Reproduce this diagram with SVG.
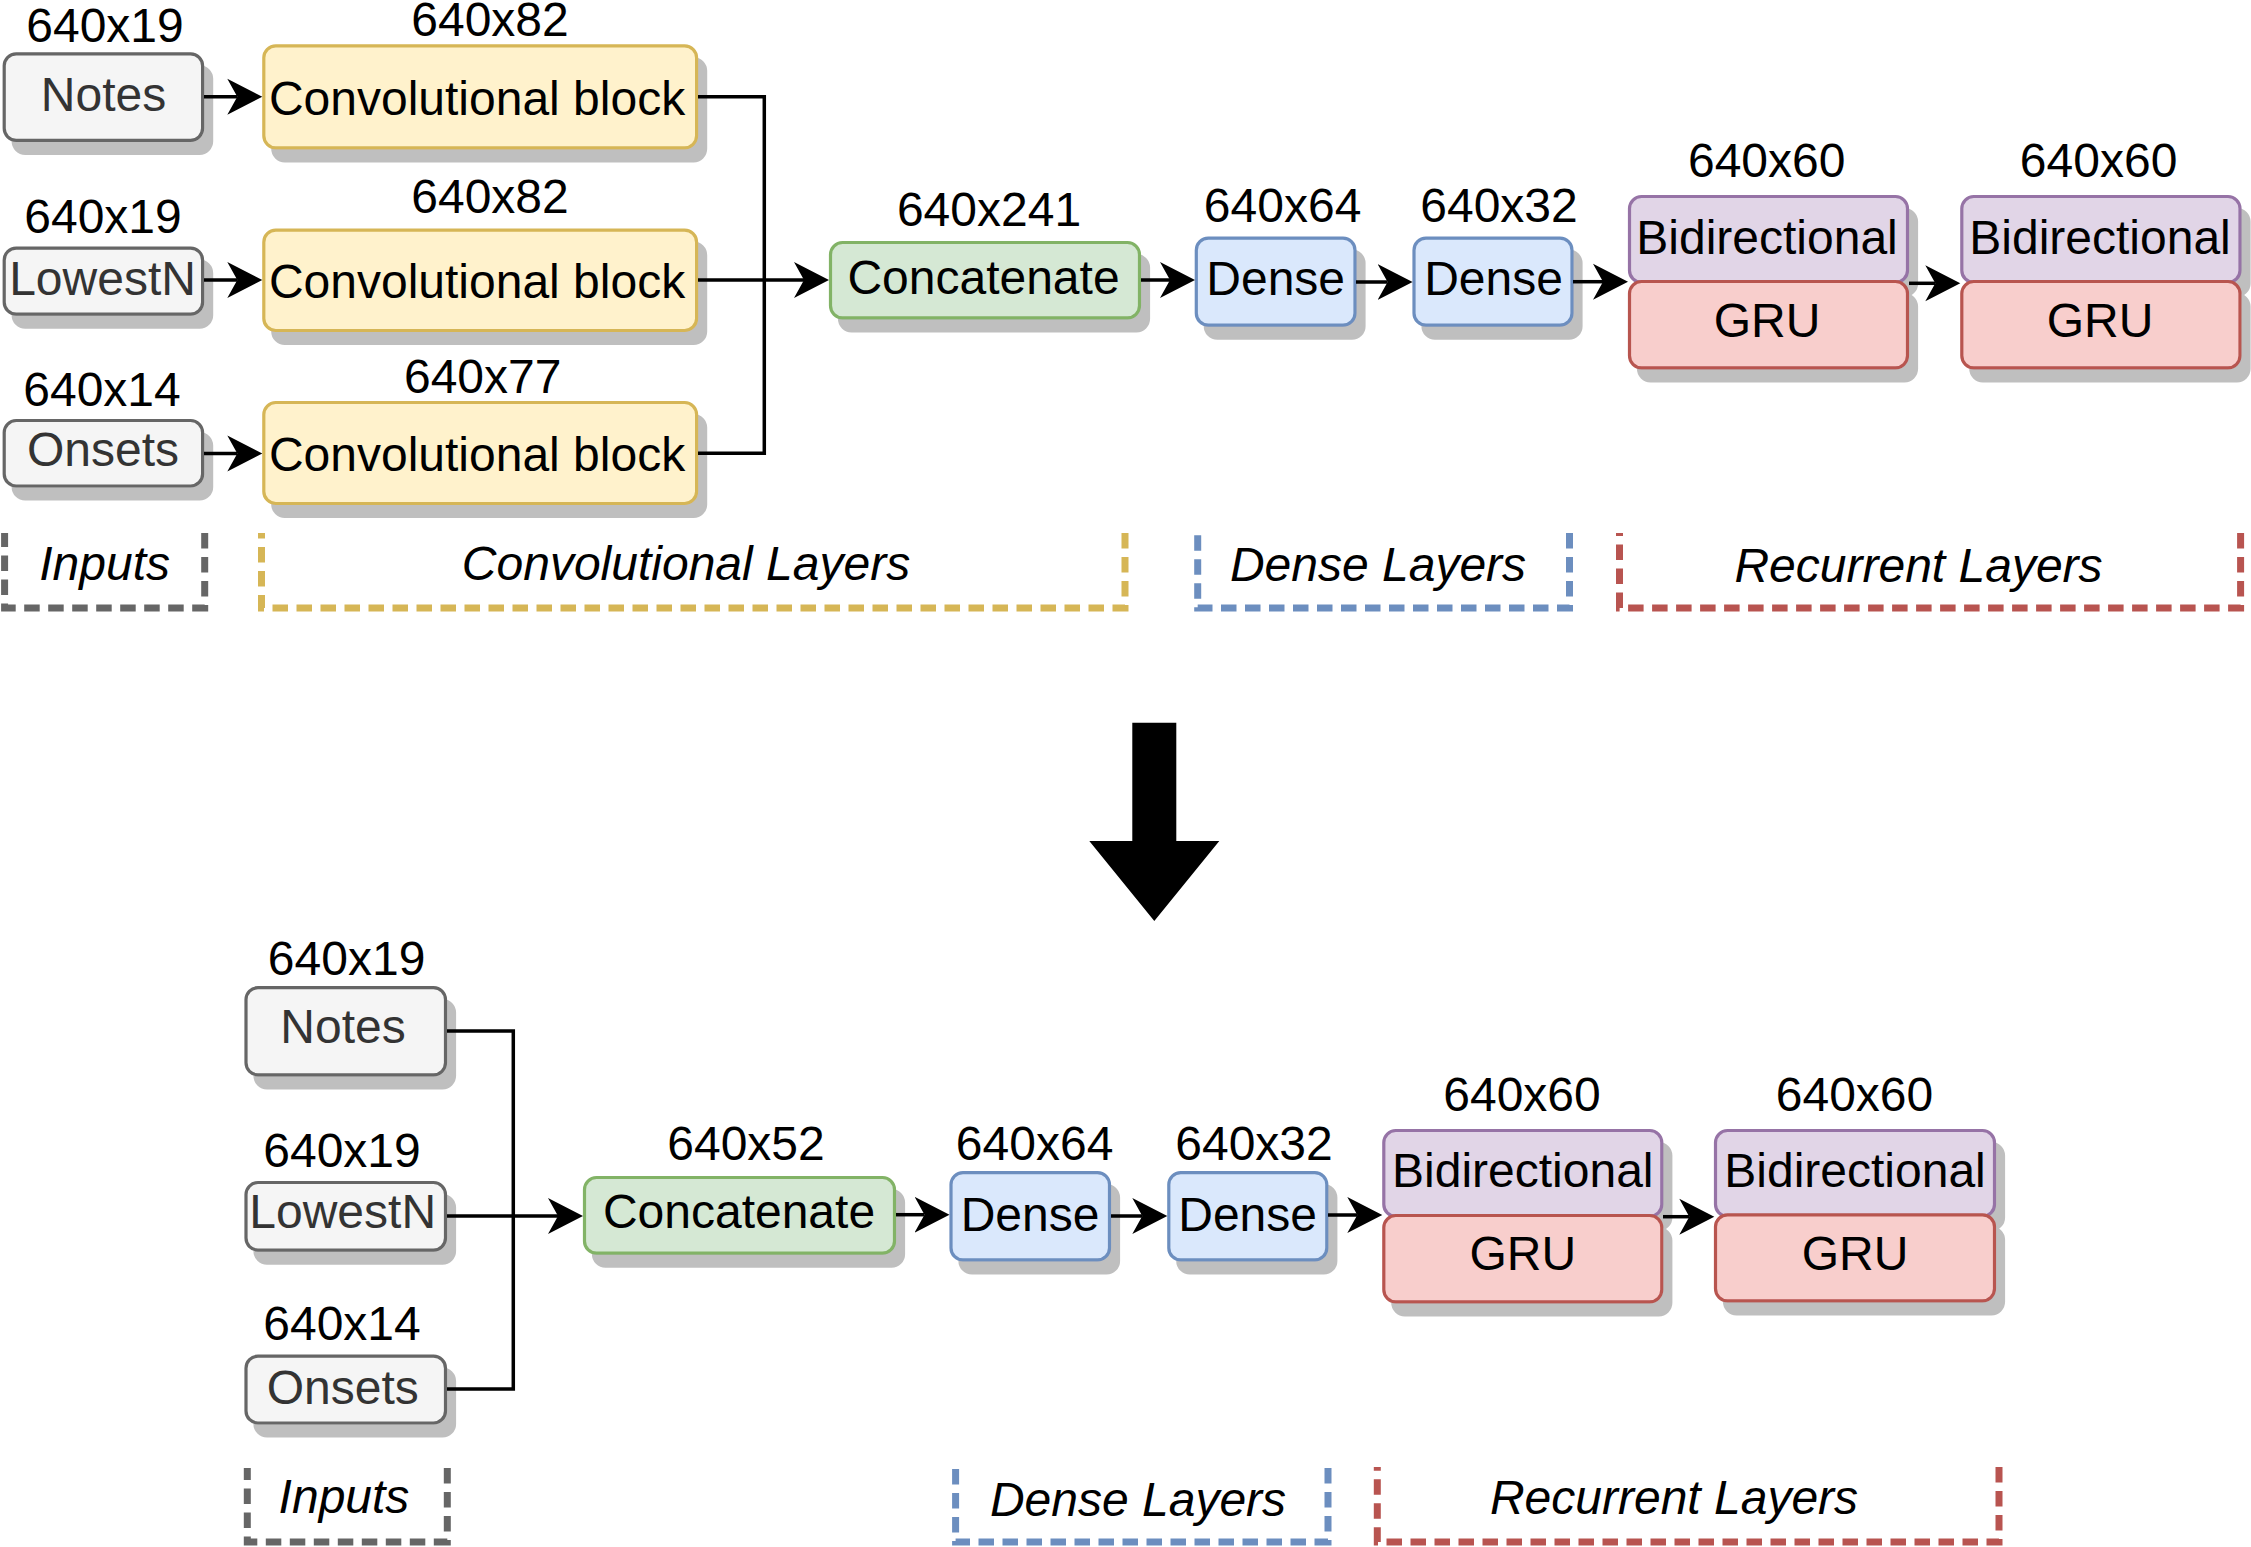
<svg xmlns="http://www.w3.org/2000/svg" width="2251" height="1547" viewBox="0 0 2251 1547">
<defs>
<style>
.t{font-family:"Liberation Sans",Arial,Helvetica,sans-serif;font-size:48px;text-anchor:middle;fill:#000000}
.tg{fill:#333333}
.it{font-style:italic}
.box{stroke-width:3.2;filter:url(#sh)}
.gray{fill:#f5f5f5;stroke:#666666}
.yel{fill:#fff2cc;stroke:#d6b656}
.grn{fill:#d5e8d4;stroke:#82b366}
.blu{fill:#dae8fc;stroke:#6c8ebf}
.pur{fill:#e1d5e7;stroke:#9673a6}
.red{fill:#f8cecc;stroke:#b85450}
.edge{fill:none;stroke:#000000;stroke-width:3.5}
.arr{marker-end:url(#ah)}
.br{fill:none;stroke-width:7;stroke-dasharray:15.5 8.5}
</style>
<filter id="sh" x="-10%" y="-10%" width="130%" height="150%">
<feFlood flood-color="#bfbfbf" result="c"/>
<feComposite in="c" in2="SourceAlpha" operator="in" result="s"/>
<feOffset in="s" dx="9" dy="12.5" result="o"/>
<feMerge><feMergeNode in="o"/><feMergeNode in="SourceGraphic"/></feMerge>
</filter>
<marker id="ah" markerUnits="userSpaceOnUse" markerWidth="36" markerHeight="38" viewBox="0 0 36 38" refX="10" refY="19" orient="auto">
<path d="M0,1 L35,19 L0,37 L10,19 Z" fill="#000000"/>
</marker>
</defs>
<rect x="0" y="0" width="2251" height="1547" fill="#ffffff"/>

<!-- ===== TOP ROW ===== -->
<g id="t-notes">
<text class="t" x="105" y="41.7">640x19</text>
<rect class="box gray" x="4.2" y="53.8" width="198.4" height="86.5" rx="12"/>
<text class="t tg" x="103.5" y="111">Notes</text>
</g>
<g id="t-lowestn">
<text class="t" x="103" y="233">640x19</text>
<rect class="box gray" x="4.2" y="248.2" width="198.4" height="66" rx="12"/>
<text class="t tg" x="102.5" y="295">LowestN</text>
</g>
<g id="t-onsets">
<text class="t" x="102" y="406">640x14</text>
<rect class="box gray" x="4.2" y="420.5" width="198.4" height="65.5" rx="12"/>
<text class="t tg" x="103" y="465.5">Onsets</text>
</g>
<g id="t-conv1">
<text class="t" x="490" y="36">640x82</text>
<rect class="box yel" x="263.8" y="45.8" width="432.8" height="102" rx="12"/>
<text class="t" x="477" y="114.5">Convolutional block</text>
</g>
<g id="t-conv2">
<text class="t" x="490" y="213.4">640x82</text>
<rect class="box yel" x="263.8" y="230.2" width="432.8" height="100.3" rx="12"/>
<text class="t" x="477" y="298">Convolutional block</text>
</g>
<g id="t-conv3">
<text class="t" x="482.7" y="393">640x77</text>
<rect class="box yel" x="263.8" y="402.5" width="432.8" height="101" rx="12"/>
<text class="t" x="477" y="470.5">Convolutional block</text>
</g>
<g id="t-concat">
<text class="t" x="989" y="226">640x241</text>
<rect class="box grn" x="830.5" y="242.5" width="309" height="75.3" rx="12"/>
<text class="t" x="983.5" y="294">Concatenate</text>
</g>
<g id="t-dense1">
<text class="t" x="1282.6" y="221.7">640x64</text>
<rect class="box blu" x="1196.3" y="238.2" width="158.7" height="87" rx="12"/>
<text class="t" x="1275.7" y="295">Dense</text>
</g>
<g id="t-dense2">
<text class="t" x="1499" y="221.7">640x32</text>
<rect class="box blu" x="1414" y="238.2" width="158" height="87" rx="12"/>
<text class="t" x="1493.5" y="295">Dense</text>
</g>
<g id="t-bidir1">
<text class="t" x="1766.7" y="177.3">640x60</text>
<rect class="box pur" x="1629.5" y="196.5" width="278" height="86" rx="12"/>
<text class="t" x="1767" y="254">Bidirectional</text>
</g>
<g id="t-gru1">
<rect class="box red" x="1629.5" y="281.5" width="278" height="86.3" rx="12"/>
<text class="t" x="1767" y="337.3">GRU</text>
</g>
<g id="t-bidir2">
<text class="t" x="2098.6" y="177.3">640x60</text>
<rect class="box pur" x="1961.8" y="196.5" width="278.2" height="86" rx="12"/>
<text class="t" x="2100" y="254">Bidirectional</text>
</g>
<g id="t-gru2">
<rect class="box red" x="1961.8" y="281.5" width="278.2" height="86.3" rx="12"/>
<text class="t" x="2100" y="337.3">GRU</text>
</g>

<!-- top group brackets -->
<g id="t-inputs-group">
<path class="br" stroke="#666666" d="M204.7,533 V608 H4.6 V533"/>
<text class="t it" x="104.6" y="580">Inputs</text>
</g>
<g id="t-conv-group">
<path class="br" stroke="#d6b656" d="M1125,533 V608 H261.5 V533"/>
<text class="t it" x="686" y="580">Convolutional Layers</text>
</g>
<g id="t-dense-group">
<path class="br" stroke="#6c8ebf" d="M1569.5,533 V608 H1197.7 V533"/>
<text class="t it" x="1378" y="581">Dense Layers</text>
</g>
<g id="t-rec-group">
<path class="br" stroke="#b85450" d="M2240.6,533 V608 H1619.5 V533"/>
<text class="t it" x="1918.5" y="582">Recurrent Layers</text>
</g>

<!-- big arrow -->
<g id="big-arrow">
<polygon points="1132.3,722.7 1176.3,722.7 1176.3,841 1219.3,841 1154.3,921 1089.3,841 1132.3,841" fill="#000000"/>
</g>

<!-- ===== BOTTOM ROW ===== -->
<g id="b-notes">
<text class="t" x="346.6" y="974.6">640x19</text>
<rect class="box gray" x="246" y="987.6" width="199.5" height="87.2" rx="12"/>
<text class="t tg" x="343" y="1043">Notes</text>
</g>
<g id="b-lowestn">
<text class="t" x="342" y="1167.4">640x19</text>
<rect class="box gray" x="246" y="1182.5" width="199.5" height="67.6" rx="12"/>
<text class="t tg" x="342.7" y="1228.4">LowestN</text>
</g>
<g id="b-onsets">
<text class="t" x="342" y="1340.3">640x14</text>
<rect class="box gray" x="246" y="1356.2" width="199.5" height="66.8" rx="12"/>
<text class="t tg" x="342.7" y="1403.7">Onsets</text>
</g>
<g id="b-concat">
<text class="t" x="746" y="1159.6">640x52</text>
<rect class="box grn" x="584.5" y="1177.5" width="310" height="75.7" rx="12"/>
<text class="t" x="739" y="1228">Concatenate</text>
</g>
<g id="b-dense1">
<text class="t" x="1034.6" y="1159.6">640x64</text>
<rect class="box blu" x="951" y="1172.6" width="158.5" height="87.3" rx="12"/>
<text class="t" x="1030" y="1231">Dense</text>
</g>
<g id="b-dense2">
<text class="t" x="1254" y="1159.6">640x32</text>
<rect class="box blu" x="1168.8" y="1172.6" width="158" height="87.3" rx="12"/>
<text class="t" x="1247.6" y="1231">Dense</text>
</g>
<g id="b-bidir1">
<text class="t" x="1522" y="1110.7">640x60</text>
<rect class="box pur" x="1383.8" y="1130.5" width="278" height="86" rx="12"/>
<text class="t" x="1522.8" y="1186.7">Bidirectional</text>
</g>
<g id="b-gru1">
<rect class="box red" x="1383.8" y="1215.5" width="278" height="86.3" rx="12"/>
<text class="t" x="1522.8" y="1270">GRU</text>
</g>
<g id="b-bidir2">
<text class="t" x="1854.5" y="1110.7">640x60</text>
<rect class="box pur" x="1715.5" y="1130.5" width="279" height="86" rx="12"/>
<text class="t" x="1855" y="1186.7">Bidirectional</text>
</g>
<g id="b-gru2">
<rect class="box red" x="1715.5" y="1214.8" width="279" height="86" rx="12"/>
<text class="t" x="1855" y="1270">GRU</text>
</g>

<!-- bottom group brackets -->
<g id="b-inputs-group">
<path class="br" stroke="#666666" d="M447.3,1468 V1542 H247.3 V1468"/>
<text class="t it" x="344" y="1513">Inputs</text>
</g>
<g id="b-dense-group">
<path class="br" stroke="#6c8ebf" d="M1328,1468 V1542 H955.6 V1468"/>
<text class="t it" x="1138" y="1516">Dense Layers</text>
</g>
<g id="b-rec-group">
<path class="br" stroke="#b85450" d="M1999,1467 V1542 H1377.3 V1467"/>
<text class="t it" x="1674" y="1514">Recurrent Layers</text>
</g>

<!-- ===== CONNECTORS ===== -->
<g id="connectors">
<path class="edge arr" d="M204,96.7 H237.3"/>
<path class="edge arr" d="M204,280 H237.3"/>
<path class="edge arr" d="M204,453.5 H237.3"/>
<path class="edge" d="M698,96.7 H764.3 V453.2 H698"/>
<path class="edge arr" d="M698,280 H804"/>
<path class="edge arr" d="M1141,280 H1170"/>
<path class="edge arr" d="M1356,282 H1387.6"/>
<path class="edge arr" d="M1573,281.7 H1603"/>
<path class="edge arr" d="M1909,283.3 H1935.3"/>
<path class="edge" d="M447,1031 H513.3 V1389 H447"/>
<path class="edge arr" d="M447,1216 H558"/>
<path class="edge arr" d="M896,1214.7 H924.5"/>
<path class="edge arr" d="M1111,1216 H1142.3"/>
<path class="edge arr" d="M1328,1215 H1357.3"/>
<path class="edge arr" d="M1663,1216.7 H1689.3"/>
</g>
</svg>
